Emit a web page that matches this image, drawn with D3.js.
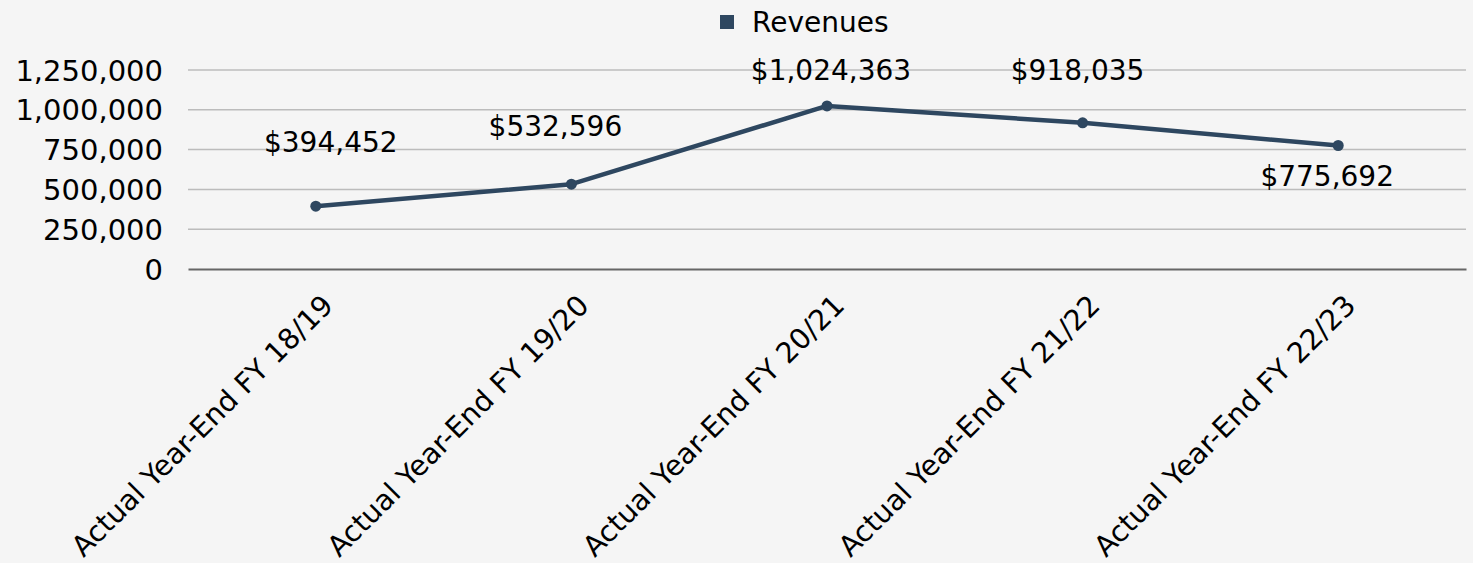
<!DOCTYPE html>
<html>
<head>
<meta charset="utf-8">
<script src="https://cdn.jsdelivr.net/npm/d3@7"></script>
<style>
  body { margin: 0; background: #f5f5f5; }
  svg text { font-family: "DejaVu Sans", sans-serif; fill: #000; }
</style>
</head>
<body>
<div id="chart"></div>
<script>
// data
var categories = ["Actual Year-End FY 18/19", "Actual Year-End FY 19/20", "Actual Year-End FY 20/21",
  "Actual Year-End FY 21/22", "Actual Year-End FY 22/23"];
var revenues = [394452, 532596, 1024363, 918035, 775692];
var yTicks = [0, 250000, 500000, 750000, 1000000, 1250000];
var seriesName = "Revenues";

var width = 1473, height = 563;
var margin = { top: 70, right: 7, bottom: 294, left: 188 };
var lineColor = "#2e4760";

var svg = d3.select("#chart").append("svg")
  .attr("width", width).attr("height", height)
  .style("background", "#f5f5f5");

var x = d3.scaleBand().domain(categories).range([margin.left, width - margin.right]);
var y = d3.scaleLinear().domain([0, 1250000]).range([height - margin.bottom, margin.top]);

// gridlines
svg.append("g").selectAll("line")
  .data(yTicks.slice(1))
  .enter().append("line")
  .attr("x1", margin.left).attr("x2", width - margin.right)
  .attr("y1", function (d) { return y(d); }).attr("y2", function (d) { return y(d); })
  .attr("stroke", "#bcbcbc").attr("stroke-width", 1.5);

// y axis labels
var yAxis = d3.axisLeft(y).tickValues(yTicks).tickSize(0).tickPadding(0)
  .tickFormat(d3.format(","));
svg.append("g")
  .attr("transform", "translate(" + (margin.left - 25) + ",0)")
  .call(yAxis)
  .call(function (g) { g.select(".domain").remove(); })
  .selectAll("text")
  .style("font-size", "29px")
  .attr("dy", "0.35em");

// x axis
var xAxis = d3.axisBottom(x).tickSize(0).tickPadding(0);
var gx = svg.append("g")
  .attr("transform", "translate(0," + y(0) + ")")
  .call(xAxis);
gx.select(".domain").attr("stroke", "#666").attr("stroke-width", 2);
gx.selectAll("text")
  .style("font-size", "28.5px")
  .attr("text-anchor", "end")
  .attr("dy", "0.35em")
  .attr("transform", "translate(12,31) rotate(-45)");

// line
var line = d3.line()
  .x(function (d, i) { return x(categories[i]) + x.bandwidth() / 2; })
  .y(function (d) { return y(d); });

svg.append("path")
  .datum(revenues)
  .attr("d", line)
  .attr("fill", "none")
  .attr("stroke", lineColor)
  .attr("stroke-width", 4.5)
  .attr("stroke-linejoin", "round");

svg.append("g").selectAll("circle")
  .data(revenues)
  .enter().append("circle")
  .attr("cx", function (d, i) { return x(categories[i]) + x.bandwidth() / 2; })
  .attr("cy", function (d) { return y(d); })
  .attr("r", 5.5)
  .attr("fill", lineColor);

// data labels (offsets as Excel placed them)
var labelShift = [[15, -64], [-16, -58], [4, -36], [-5, -53], [-11, 31]];
svg.append("g").selectAll("text")
  .data(revenues)
  .enter().append("text")
  .attr("x", function (d, i) { return x(categories[i]) + x.bandwidth() / 2 + labelShift[i][0]; })
  .attr("y", function (d, i) { return y(d) + labelShift[i][1]; })
  .attr("dy", "0.35em")
  .attr("text-anchor", "middle")
  .style("font-size", "28px")
  .text(function (d) { return "$" + d3.format(",")(d); });

// legend
var legend = svg.append("g").attr("transform", "translate(720,22)");
legend.append("rect")
  .attr("x", 0).attr("y", -7).attr("width", 14).attr("height", 14)
  .attr("fill", lineColor);
legend.append("text")
  .attr("x", 32).attr("y", 0).attr("dy", "0.35em")
  .style("font-size", "28px")
  .text(seriesName);
</script>
</body>
</html>
